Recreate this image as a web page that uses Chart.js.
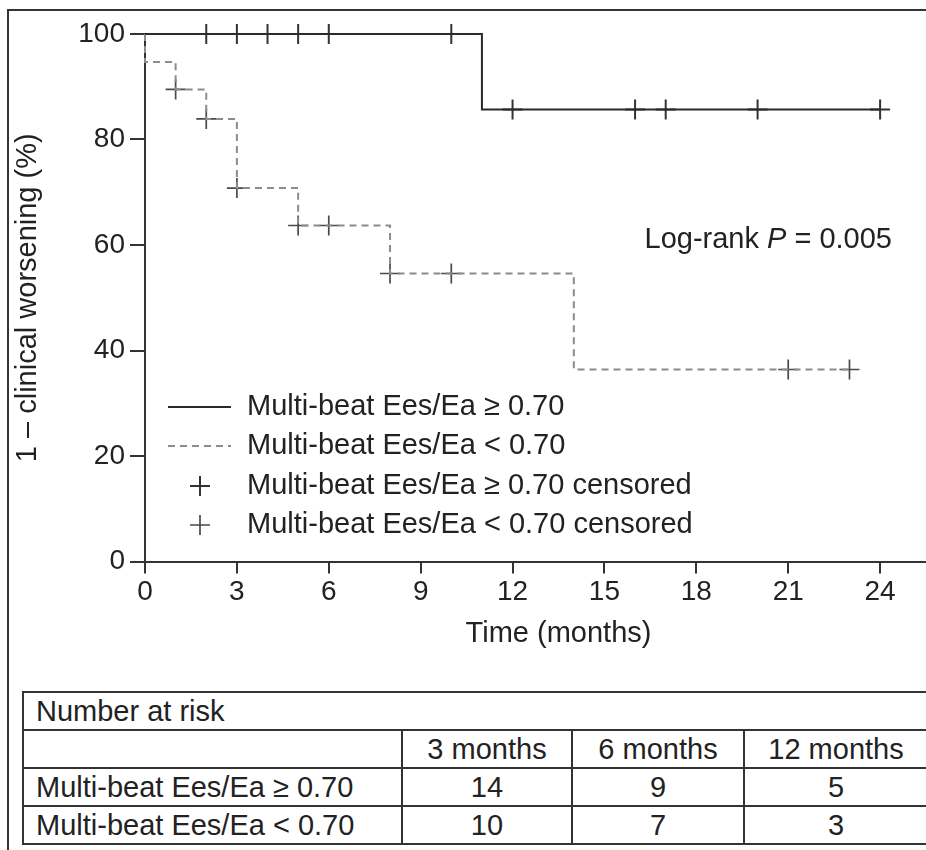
<!DOCTYPE html>
<html>
<head>
<meta charset="utf-8">
<script src="https://cdn.jsdelivr.net/npm/chart.js@4.4.1/dist/chart.umd.min.js"></script>
<style>
  html, body { margin: 0; padding: 0; background: #fff; }
  #page { position: relative; width: 926px; height: 850px; overflow: hidden; font-family: "Liberation Sans", Arial, sans-serif; color: #222; }
  #frame { position: absolute; left: 7px; top: 9px; width: 1100px; height: 900px; border-left: 2px solid #333; border-top: 2px solid #333; }
  #plot { position: absolute; left: 0; top: 0; width: 1000px; height: 680px; }
  #risk { position: absolute; left: 22px; top: 691px; width: 990px; border-collapse: collapse; table-layout: fixed; font-size: 29px; }
  #risk td { border: 2px solid #333; height: 36px; padding: 0; line-height: 34px; text-align: center; white-space: nowrap; }
  #risk td.lbl { text-align: left; padding-left: 12px; }
</style>
</head>
<body>
<div id="page">
<div id="frame"></div>
<div id="plot"><canvas id="km"></canvas></div>
<table id="risk">
  <colgroup><col style="width:379px"><col style="width:170px"><col style="width:172px"><col style="width:184px"><col style="width:85px"></colgroup>
  <tbody></tbody>
</table>
</div>
<script>
// Группы
const highLabel = 'Multi-beat Ees/Ea ≥ 0.70';
const lowLabel = 'Multi-beat Ees/Ea < 0.70';

// Ступени кривой Каплана–Мейера (время, мес. / доля без ухудшения, %)
const highStepTimes = [0, 11, 24];
const highStepSurv = [100, 85.7, 85.7];
const lowStepTimes = [0, 0, 1, 2, 3, 5, 8, 14, 23];
const lowStepSurv = [100, 94.7, 89.5, 83.9, 70.8, 63.7, 54.6, 36.4, 36.4];

// Цензурированные наблюдения
const highCensorTimes = [2, 3, 4, 5, 6, 10, 12, 16, 17, 20, 24];
const highCensorSurv = [100, 100, 100, 100, 100, 100, 85.7, 85.7, 85.7, 85.7, 85.7];
const lowCensorTimes = [1, 2, 3, 5, 6, 8, 10, 21, 23];
const lowCensorSurv = [89.5, 83.9, 70.8, 63.7, 63.7, 54.6, 54.6, 36.4, 36.4];

// Число пациентов под риском
const riskTimes = ['3 months', '6 months', '12 months'];
const riskHigh = [14, 9, 5];
const riskLow = [10, 7, 3];

const logRankP = '0.005';

const FONT = '"Liberation Sans", Arial, sans-serif';
Chart.defaults.font.family = FONT;
Chart.defaults.font.size = 28;
Chart.defaults.color = '#222';

const toPoints = (xs, ys) => xs.map((x, i) => ({ x: x, y: ys[i] }));

// Легенда и подпись log-rank внутри области графика
const kmLegend = {
  id: 'kmLegend',
  afterDatasetsDraw(chart) {
    const ctx = chart.ctx;
    const ds = chart.data.datasets;
    ctx.save();
    ctx.font = '29px ' + FONT;
    ctx.textBaseline = 'middle';
    ctx.textAlign = 'left';

    const rows = [
      { d: ds[0], y: 407, kind: 'line' },
      { d: ds[1], y: 446, kind: 'line' },
      { d: ds[2], y: 486, kind: 'cross' },
      { d: ds[3], y: 525, kind: 'cross' }
    ];
    rows.forEach(r => {
      ctx.strokeStyle = r.d.borderColor;
      ctx.lineWidth = r.d.borderWidth;
      ctx.beginPath();
      if (r.kind === 'line') {
        ctx.setLineDash(r.d.borderDash || []);
        ctx.moveTo(168, r.y);
        ctx.lineTo(231, r.y);
      } else {
        ctx.setLineDash([]);
        ctx.moveTo(190, r.y);
        ctx.lineTo(210, r.y);
        ctx.moveTo(200, r.y - 10);
        ctx.lineTo(200, r.y + 10);
      }
      ctx.stroke();
      ctx.fillStyle = '#222';
      ctx.fillText(r.d.label, 247, r.y);
    });

    // Log-rank P = ...
    const parts = [
      { t: 'Log-rank ', f: '29px ' + FONT },
      { t: 'P', f: 'italic 29px ' + FONT },
      { t: ' = ' + logRankP, f: '29px ' + FONT }
    ];
    let total = 0;
    parts.forEach(p => { ctx.font = p.f; p.w = ctx.measureText(p.t).width; total += p.w; });
    let x = 892 - total;
    parts.forEach(p => { ctx.font = p.f; ctx.fillText(p.t, x, 240); x += p.w; });
    ctx.restore();
  }
};

new Chart(document.getElementById('km'), {
  type: 'scatter',
  data: {
    datasets: [
      {
        label: highLabel,
        data: toPoints(highStepTimes, highStepSurv),
        showLine: true, stepped: 'before',
        borderColor: '#2a2a2a', borderWidth: 2,
        pointRadius: 0, clip: false
      },
      {
        label: lowLabel,
        data: toPoints(lowStepTimes, lowStepSurv),
        showLine: true, stepped: 'before',
        borderColor: '#8c8c8c', borderWidth: 2, borderDash: [7, 5],
        pointRadius: 0, clip: false
      },
      {
        label: highLabel + ' censored',
        data: toPoints(highCensorTimes, highCensorSurv),
        pointStyle: 'cross', pointRadius: 10,
        borderColor: '#333', borderWidth: 2, clip: false
      },
      {
        label: lowLabel + ' censored',
        data: toPoints(lowCensorTimes, lowCensorSurv),
        pointStyle: 'cross', pointRadius: 10,
        borderColor: '#4a4a4a', borderWidth: 1.7, clip: false
      }
    ]
  },
  options: {
    responsive: true,
    maintainAspectRatio: false,
    animation: false,
    layout: { padding: { left: 0, top: 34, right: 28, bottom: 0 } },
    plugins: { legend: { display: false }, tooltip: { enabled: false } },
    scales: {
      x: {
        type: 'linear', min: 0, max: 27,
        ticks: { stepSize: 3, padding: 2, font: { size: 28 } },
        grid: { drawOnChartArea: false, drawTicks: true, tickLength: 12, color: '#333', lineWidth: 2 },
        border: { display: true, color: '#333', width: 2 },
        title: { display: true, text: 'Time (months)', font: { size: 29 }, padding: { top: 0, bottom: 29 } },
        afterFit: s => { s.height = 118.5; }
      },
      y: {
        min: 0, max: 100,
        ticks: { stepSize: 20, padding: 5, font: { size: 28 } },
        grid: { drawOnChartArea: false, drawTicks: true, tickLength: 15, color: '#333', lineWidth: 2 },
        border: { display: true, color: '#333', width: 2 },
        title: { display: true, text: '1 – clinical worsening (%)', font: { size: 29 }, padding: { top: 11, bottom: 0 } },
        afterFit: s => { s.width = 145; }
      }
    }
  },
  plugins: [kmLegend]
});

// Таблица «Number at risk»
const tbody = document.querySelector('#risk tbody');
const cell = (text, cls, span) => {
  const td = document.createElement('td');
  td.textContent = text;
  if (cls) td.className = cls;
  if (span) td.colSpan = span;
  return td;
};
const addRow = cells => {
  const tr = document.createElement('tr');
  cells.forEach(c => tr.appendChild(c));
  tbody.appendChild(tr);
};
addRow([cell('Number at risk', 'lbl', 5)]);
addRow([cell('', 'lbl')].concat(riskTimes.map(t => cell(t)), [cell('')]));
addRow([cell(highLabel, 'lbl')].concat(riskHigh.map(v => cell(v)), [cell('')]));
addRow([cell(lowLabel, 'lbl')].concat(riskLow.map(v => cell(v)), [cell('')]));
</script>
</body>
</html>
